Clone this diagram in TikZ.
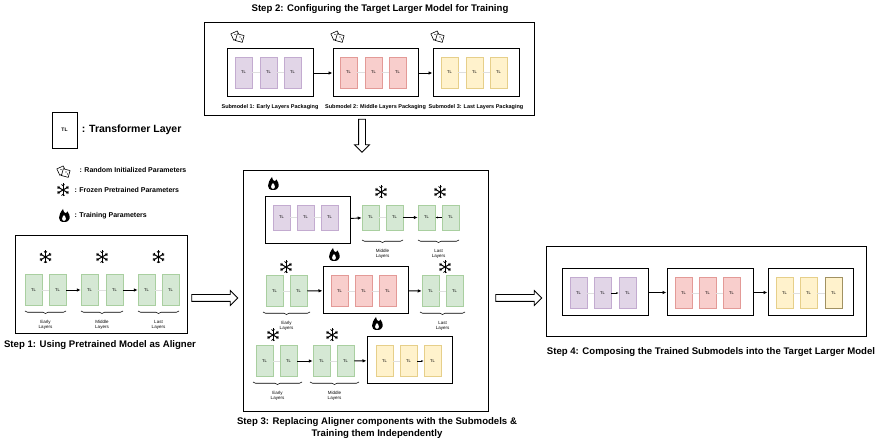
\documentclass[tikz,border=0pt]{standalone}
\usepackage{fontspec}
\setmainfont{Liberation Sans}
\usetikzlibrary{positioning,arrows.meta,shapes.arrows,decorations.pathreplacing}

\definecolor{purpF}{HTML}{E1D5E7}\definecolor{purpD}{HTML}{C3ABD0}
\definecolor{redF}{HTML}{F8CECC}\definecolor{redD}{HTML}{E39A97}
\definecolor{yelF}{HTML}{FFF2CC}\definecolor{yelD}{HTML}{E6CF8A}
\definecolor{grnF}{HTML}{D5E8D4}\definecolor{grnD}{HTML}{A9CFA0}

\tikzset{
  tl/.style={draw, line width=0.5pt, minimum width=17pt, minimum height=31pt,
    inner sep=0pt, font=\fontsize{4}{4}\selectfont},
  tls/.style={tl, minimum height=25pt},
  purp/.style={fill=purpF, draw=purpD},
  redl/.style={fill=redF, draw=redD},
  yel/.style={fill=yelF, draw=yelD},
  grn/.style={fill=grnF, draw=grnD},
  box/.style={draw, line width=1pt},
  outer/.style={draw, line width=0.8pt},
  gap/.style={gray!25, line width=0.6pt},
  link/.style={-{Latex[length=4pt,width=3.5pt]}, line width=0.9pt},
  title/.style={font=\bfseries\fontsize{9.6}{12.5}\selectfont, align=center},
  sub/.style={font=\bfseries\fontsize{5.5}{6}\selectfont},
  lay/.style={font=\fontsize{4.5}{5.2}\selectfont, align=center},
  legend/.style={font=\bfseries\fontsize{7}{8}\selectfont, anchor=west},
  brc/.style={decorate, decoration={brace, mirror, amplitude=2.5pt}, line width=0.6pt},
  hollow/.style={single arrow, draw, fill=white, line width=0.8pt,
    inner sep=3pt, single arrow head extend=4pt},
  flame/.pic={
    \fill (0,6) .. controls (-7,6) and (-6,-1) .. (-1,-7)
      .. controls (0,-2) and (2,-2) .. (3.5,-4.5)
      .. controls (7,0) and (7,6) .. (0,6);
    \fill[white] (0,4.8) .. controls (-2.5,4.8) and (-2.5,1.5) .. (0,-1)
      .. controls (2.5,1.5) and (2.5,4.8) .. (0,4.8);
  },
  snow/.pic={
    \foreach \a in {90,30,-30} {
      \draw[line width=1pt] (\a:6.5) -- (\a+180:6.5);
      \draw[line width=0.7pt] (\a:4) -- ++(\a+40:2.2) (\a:4) -- ++(\a-40:2.2);
      \draw[line width=0.7pt] (\a+180:4) -- ++(\a+220:2.2) (\a+180:4) -- ++(\a+140:2.2);
    }
  },
  dice/.pic={
    \draw[fill=white, line width=0.6pt, rotate=25] (-6,-4) rectangle (1,3);
    \draw[fill=white, line width=0.6pt, rotate=-15] (-1,-1) rectangle (6,6);
    \fill (-3,-0.5) circle (0.7) (2,2) circle (0.7) (3.5,4) circle (0.7);
  },
}

\begin{document}
\begin{tikzpicture}[x=1pt, y=-1pt]
  \useasboundingbox (0,0) rectangle (876,446);

  % ---------------- legend
  \node[tl, minimum width=25pt, minimum height=36pt, font=\bfseries\fontsize{5}{5}\selectfont]
    (legTL) at (64.5,130) {TL};
  \node[legend, font=\bfseries\fontsize{10.5}{12}\selectfont, right=1pt of legTL] {: Transformer Layer};
  \pic at (64,170) {dice};
  \node[legend] (legDice) at (76,170) {: Random Initialized Parameters};
  \pic at (63,190) {snow};
  \node[legend] (legSnow) at (71,190) {: Frozen Pretrained Parameters};
  \pic at (64,216) {flame};
  \node[legend] (legFlame) at (71,216) {: Training Parameters};

  % ---------------- step 1
  \node[outer, minimum width=172pt, minimum height=98pt] (s1) at (101,284) {};
  \foreach \x [count=\i] in {33.5,57.5,89.5,114.5,146.5,170.5}
    \node[tl, grn] (a\i) at (\x,290) {TL};
  \foreach \x in {45.5,102,158.5} \pic at (\x,257) {snow};
  \draw[gap] (a1) -- (a2) (a3) -- (a4) (a5) -- (a6);
  \draw[link] (a2) -- (a3);
  \draw[link] (a4) -- (a5);
  \draw[brc] (25,311) -- (66,311);
  \draw[brc] (81,311) -- (123,311);
  \draw[brc] (138,311) -- (179,311);
  \node[lay] at (45.5,325) {Early\\Layers};
  \node[lay] at (102,325) {Middle\\Layers};
  \node[lay] at (158.5,325) {Last\\Layers};
  \node[title] at (100,345) {Step 1: Using Pretrained Model as Aligner};

  % ---------------- step 2
  \node[title] at (380,9) {Step 2: Configuring the Target Larger Model for Training};
  \node[outer, minimum width=330pt, minimum height=93pt] (s2) at (369,68.5) {};
  \node[box, minimum width=86pt, minimum height=48pt] (m1) at (270,73) {};
  \node[box, minimum width=85pt, minimum height=48pt] (m2) at (375.5,73) {};
  \node[box, minimum width=86pt, minimum height=48pt] (m3) at (476,73) {};
  \foreach \x [count=\i] in {243.5,268.5,292.5}
    \node[tl, purp] (p\i) at (\x,72.5) {TL};
  \foreach \x [count=\i] in {348.5,373.5,397.5}
    \node[tl, redl] (r\i) at (\x,72.5) {TL};
  \foreach \x [count=\i] in {449.5,474.5,498.5}
    \node[tl, yel] (y\i) at (\x,72.5) {TL};
  \draw[gap] (p1) -- (p2) -- (p3) (r1) -- (r2) -- (r3) (y1) -- (y2) -- (y3);
  \draw[link] (m1) -- (m2);
  \draw[link] (m2) -- (m3);
  \foreach \x in {238,338,438} \pic at (\x,35) {dice};
  \node[sub] at (270,107) {Submodel 1: Early Layers Packaging};
  \node[sub] at (375.5,107) {Submodel 2: Middle Layers Packaging};
  \node[sub] at (476,107) {Submodel 3: Last Layers Packaging};

  \node[hollow, rotate=-90, minimum height=33pt] (down) at (362,134) {};

  % ---------------- step 3
  \node[outer, minimum width=245pt, minimum height=241pt] (s3) at (365.5,290.5) {};
  % row 1
  \node[box, minimum width=85pt, minimum height=47pt] (b1) at (307.5,220.5) {};
  \foreach \x [count=\i] in {281.5,305.5,329.5}
    \node[tls, purp] (u\i) at (\x,217.5) {TL};
  \foreach \x [count=\i] in {370.5,394.5,426.5,450.5}
    \node[tls, grn] (g\i) at (\x,217.5) {TL};
  \draw[gap] (u1) -- (u2) -- (u3) (g1) -- (g2);
  \draw[link] (b1) -- (g1);
  \draw[link] (g2) -- (g3);
  \draw[-{Latex[length=2.5pt]}, line width=0.5pt] (g4) -- (g3);
  \pic at (273,184) {flame};
  \pic at (381,192) {snow};
  \pic at (440,192) {snow};
  \draw[brc] (362,240) -- (403,240);
  \draw[brc] (418,240) -- (459,240);
  \node[lay] at (382.5,254) {Middle\\Layers};
  \node[lay] at (438.5,254) {Last\\Layers};
  % row 2
  \node[box, minimum width=85pt, minimum height=47pt] (b2) at (365.5,290.5) {};
  \foreach \x [count=\i] in {339.5,363.5,387.5}
    \node[tl, redl] (v\i) at (\x,291) {TL};
  \foreach \x [count=\i] in {274.5,298.5,430.5,454.5}
    \node[tl, grn] (h\i) at (\x,291) {TL};
  \draw[gap] (v1) -- (v2) -- (v3) (h1) -- (h2) (h3) -- (h4);
  \draw[link] (h2) -- (b2);
  \draw[link] (b2) -- (h3);
  \pic at (334,255) {flame};
  \pic at (286,267) {snow};
  \pic at (445,267) {snow};
  \draw[brc] (263,312) -- (310,312);
  \draw[brc] (420,312) -- (465,312);
  \node[lay] at (286.5,326) {Early\\Layers};
  \node[lay] at (442.5,326) {Last\\Layers};
  % row 3
  \node[box, minimum width=85pt, minimum height=47pt] (b3) at (409.5,360.5) {};
  \foreach \x [count=\i] in {384.5,408.5,432.5}
    \node[tl, yel] (w\i) at (\x,361) {TL};
  \foreach \x [count=\i] in {264.5,288.5,321.5,345.5}
    \node[tl, grn] (k\i) at (\x,361) {TL};
  \draw[gap] (w1) -- (w2) (k1) -- (k2) (k3) -- (k4);
  \draw[-{Latex[length=2.5pt]}, line width=0.5pt] (w2) -- (w3);
  \draw[link] (k2) -- (k3);
  \draw[link] (k4) -- (b3);
  \pic at (377,324) {flame};
  \pic at (273,335) {snow};
  \pic at (332,335) {snow};
  \draw[brc] (253,382) -- (302,382);
  \draw[brc] (310,382) -- (359,382);
  \node[lay] at (277.5,396) {Early\\Layers};
  \node[lay] at (334.5,396) {Middle\\Layers};
  \node[title] at (377,428) {Step 3: Replacing Aligner components with the Submodels \&\\Training them Independently};

  \node[hollow, minimum height=46pt] (right1) at (213,298) {};
  \node[hollow, minimum height=46pt] (right2) at (517,298) {};

  % ---------------- step 4
  \node[outer, minimum width=320pt, minimum height=90pt] (s4) at (706,291) {};
  \node[box, minimum width=86pt, minimum height=47pt] (c1) at (605,292.5) {};
  \node[box, minimum width=86pt, minimum height=47pt] (c2) at (710,292.5) {};
  \node[box, minimum width=85pt, minimum height=47pt] (c3) at (810.5,292.5) {};
  \foreach \x [count=\i] in {578.5,602.5,627.5}
    \node[tl, purp] (e\i) at (\x,293) {TL};
  \foreach \x [count=\i] in {683.5,707.5,731.5}
    \node[tl, redl] (f\i) at (\x,293) {TL};
  \foreach \x [count=\i] in {784.5,808.5}
    \node[tl, yel] (q\i) at (\x,293) {TL};
  \node[tl, fill=yelF, draw=yelD!70!black, line width=1pt] (q3) at (833.5,293) {TL};
  \draw[gap] (e1) -- (e2) (f1) -- (f2) -- (f3) (q1) -- (q2) -- (q3);
  \draw[-{Latex[length=2.5pt]}, line width=0.5pt] (e2) -- (e3);
  \draw[link] (c1) -- (c2);
  \draw[link] (c2) -- (c3);
  \node[title] at (711,352) {Step 4: Composing the Trained Submodels into the Target Larger Model};
\end{tikzpicture}
\end{document}
